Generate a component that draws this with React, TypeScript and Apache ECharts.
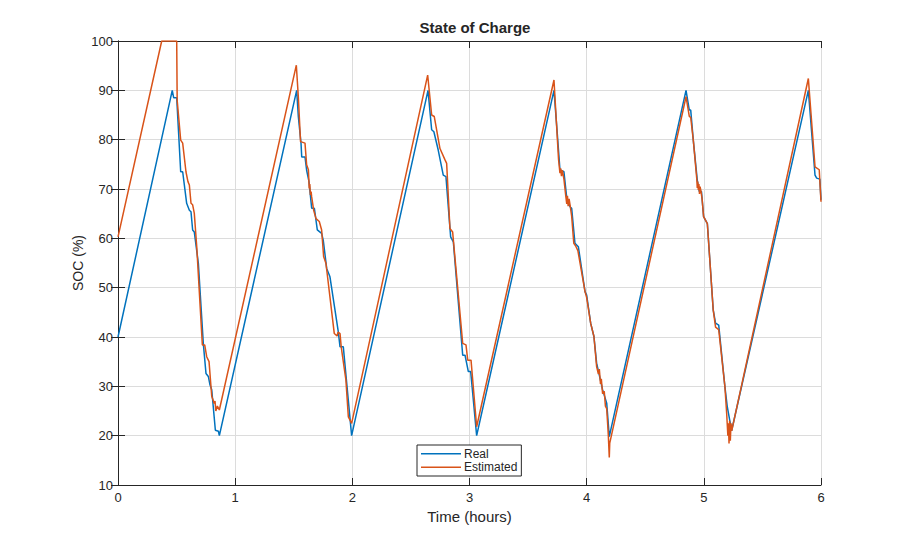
import React, { useEffect, useRef } from 'react';
import * as echarts from 'echarts';

// time (hours) and SOC (%)
const realTime = [
  0, 0.463, 0.475, 0.501, 0.535, 0.552, 0.586, 0.609, 0.623, 0.637, 0.651, 0.686, 0.728, 0.751, 0.771, 0.785, 0.8, 0.831, 0.857, 0.865,
  1.525, 1.539, 1.562, 1.568, 1.596, 1.61, 1.63, 1.653, 1.676, 1.701, 1.738, 1.752, 1.781, 1.809, 1.88, 1.895, 1.923, 1.994,
  2.646, 2.677, 2.696, 2.733, 2.776, 2.799, 2.839, 2.862, 2.942, 2.962, 2.99, 3.01, 3.061,
  3.721, 3.749, 3.772, 3.806, 3.829, 3.858, 3.872, 3.9, 3.929, 3.986, 4.0, 4.034, 4.062, 4.085, 4.136, 4.171, 4.193,
  4.848, 4.876, 4.888, 4.91, 4.944, 4.961, 4.98, 4.998, 5.03, 5.08, 5.1, 5.127, 5.18, 5.2, 5.237,
  5.892, 5.949, 5.963, 5.99, 6.0,
];
const realSoc = [
  40, 90, 88.5, 88.5, 73.5, 73.5, 67.1, 65.7, 65.4, 61.7, 61.3, 54.9, 38.7, 32.6, 32.0, 30.3, 29.3, 21.1, 20.9, 20.0,
  90, 84.7, 79.3, 76.5, 76.5, 73.8, 71.5, 66.1, 66.1, 61.7, 61.0, 59.6, 53.9, 52.2, 41.1, 38.0, 38.0, 20.0,
  90, 82.0, 81.6, 77.9, 72.8, 72.5, 60.3, 59.3, 36.3, 36.3, 33.0, 33.0, 20.0,
  90, 81.3, 73.9, 73.5, 68.4, 66.4, 66.1, 59.0, 58.3, 49.2, 48.5, 42.8, 40.1, 34.7, 29.3, 26.6, 19.8,
  90, 86.0, 86.0, 79.9, 71.8, 69.5, 69.5, 64.4, 63.0, 45.5, 42.8, 42.4, 29.9, 25.9, 21.0,
  90, 72.8, 72.2, 72.0, 67.8,
];

const estTime = [
  0, 0.373, 0.501, 0.505, 0.535, 0.552, 0.58, 0.597, 0.609, 0.623, 0.637, 0.651, 0.672, 0.72, 0.74, 0.757, 0.777, 0.8, 0.812, 0.82, 0.828, 0.835, 0.848, 0.865,
  1.522, 1.539, 1.558, 1.596, 1.61, 1.625, 1.632, 1.637, 1.642, 1.648, 1.653, 1.67, 1.69, 1.718, 1.738, 1.755, 1.775, 1.846, 1.87, 1.878, 1.895, 1.905, 1.945, 1.966, 1.994,
  2.643, 2.677, 2.699, 2.748, 2.791, 2.805, 2.833, 2.856, 2.942, 2.97, 2.985, 3.013, 3.061,
  3.721, 3.76, 3.772, 3.778, 3.785, 3.792, 3.806, 3.822, 3.83, 3.836, 3.842, 3.85, 3.858, 3.872, 3.89, 3.905, 3.925, 3.986, 4.0, 4.034, 4.062, 4.085, 4.1, 4.108, 4.118, 4.125, 4.136, 4.15, 4.16, 4.171, 4.185, 4.193, 4.197,
  4.848, 4.876, 4.888, 4.91, 4.94, 4.944, 4.948, 4.953, 4.958, 4.963, 4.968, 4.975, 4.985, 4.998, 5.03, 5.08, 5.1, 5.127, 5.18, 5.195, 5.205, 5.21, 5.215, 5.22, 5.226, 5.232, 5.238,
  5.892, 5.949, 5.985, 6.0,
];
const estSoc = [
  60.3, 100, 100, 88.0, 79.9, 79.3, 73.5, 71.5, 70.8, 67.1, 66.8, 65.1, 58.3, 38.4, 38.4, 36.0, 35.0, 28.0, 27.2, 26.5, 27.0, 25.0, 26.0, 25.2,
  95.1, 88.7, 79.6, 79.3, 74.9, 73.9, 70.1, 71.0, 68.8, 69.5, 68.4, 65.7, 64.0, 63.4, 61.7, 56.3, 54.9, 40.7, 40.2, 41.0, 40.7, 38.0, 31.3, 23.8, 22.5,
  93.1, 85.0, 84.7, 78.2, 75.9, 75.2, 62.0, 61.3, 38.7, 38.4, 35.3, 35.3, 21.8,
  92.1, 76.0, 73.2, 74.2, 72.6, 73.8, 72.0, 68.5, 67.0, 68.6, 66.5, 68.0, 66.8, 64.5, 59.0, 58.5, 57.5, 49.2, 48.0, 42.8, 40.1, 34.0, 32.5, 33.5, 30.5, 31.5, 28.5, 29.0, 26.0, 25.5, 20.0, 15.6, 18.5,
  88.7, 84.7, 84.5, 79.9, 72.0, 70.2, 71.5, 69.8, 71.0, 69.0, 70.5, 69.6, 68.0, 64.4, 63.0, 45.5, 42.0, 41.5, 29.9, 24.5, 20.0, 22.5, 18.4, 23.0, 19.0, 22.5, 21.0,
  92.4, 74.5, 73.9, 67.4,
];

const FONT = "'Liberation Sans', Arial, sans-serif";
const INK = '#262626';

const App: React.FC = () => {
  const chartRef = useRef<HTMLDivElement>(null);

  useEffect(() => {
    if (!chartRef.current) return;
    const chart = echarts.init(chartRef.current, undefined, { renderer: 'svg' });

    const plainAxis = {
      type: 'value',
      axisLine: { show: true, lineStyle: { color: INK, width: 1 } },
      axisTick: { show: true, inside: true, length: 7, lineStyle: { color: INK } },
      axisLabel: { show: false },
      splitLine: { show: false },
    };

    chart.setOption({
      animation: false,
      backgroundColor: '#ffffff',
      textStyle: { fontFamily: FONT },
      title: {
        text: 'State of Charge',
        left: 470,
        top: 15,
        textAlign: 'center',
        textStyle: { fontFamily: FONT, fontSize: 15, fontWeight: 'bold', color: INK },
      },
      legend: {
        data: ['Real', 'Estimated'],
        orient: 'vertical',
        left: 417,
        top: 445,
        padding: [2, 4, 2, 4],
        itemGap: 0,
        itemWidth: 40,
        itemHeight: 1.5,
        icon: 'rect',
        borderColor: INK,
        borderWidth: 1,
        backgroundColor: '#ffffff',
        textStyle: { fontFamily: FONT, fontSize: 12, color: INK, lineHeight: 13.5, padding: [0, 0, 0, -2] },
      },
      grid: { left: 118, right: 87, top: 41, bottom: 61 },
      xAxis: [
        {
          type: 'value',
          min: 0,
          max: 6,
          interval: 1,
          position: 'bottom',
          name: 'Time (hours)',
          nameLocation: 'middle',
          nameGap: 23,
          nameTextStyle: { fontFamily: FONT, fontSize: 15, color: INK },
          axisLine: { show: true, onZero: false, lineStyle: { color: INK, width: 1 } },
          axisTick: { show: true, inside: true, length: 7, lineStyle: { color: INK } },
          axisLabel: { fontFamily: FONT, fontSize: 13, color: INK, margin: 6 },
          splitLine: { show: true, lineStyle: { color: '#dcdcdc', width: 1 } },
        },
        { ...plainAxis, min: 0, max: 6, interval: 1, position: 'top' },
      ],
      yAxis: [
        {
          type: 'value',
          min: 10,
          max: 100,
          interval: 10,
          position: 'left',
          name: 'SOC (%)',
          nameLocation: 'middle',
          nameRotate: 90,
          nameGap: 33,
          nameMoveOverlap: false,
          nameTextStyle: { fontFamily: FONT, fontSize: 14, color: INK },
          axisLine: { show: true, onZero: false, lineStyle: { color: INK, width: 1 } },
          axisTick: { show: true, inside: true, length: 7, lineStyle: { color: INK } },
          axisLabel: { fontFamily: FONT, fontSize: 13, color: INK, margin: 5 },
          splitLine: { show: true, lineStyle: { color: '#dcdcdc', width: 1 } },
        },
        { ...plainAxis, min: 10, max: 100, interval: 10, position: 'right' },
      ],
      series: [
        {
          name: 'Real',
          type: 'line',
          xAxisIndex: 0,
          yAxisIndex: 0,
          showSymbol: false,
          data: realTime.map((t, i) => [t, realSoc[i]]),
          lineStyle: { color: '#0072BD', width: 1.5 },
          itemStyle: { color: '#0072BD' },
        },
        {
          name: 'Estimated',
          type: 'line',
          xAxisIndex: 0,
          yAxisIndex: 0,
          showSymbol: false,
          data: estTime.map((t, i) => [t, estSoc[i]]),
          lineStyle: { color: '#D95319', width: 1.5 },
          itemStyle: { color: '#D95319' },
        },
      ],
    });

    return () => {
      chart.dispose();
    };
  }, []);

  return (
    <div
      ref={chartRef}
      style={{ position: 'absolute', left: 0, top: 0, width: 908, height: 546 }}
    />
  );
};

export default App;
